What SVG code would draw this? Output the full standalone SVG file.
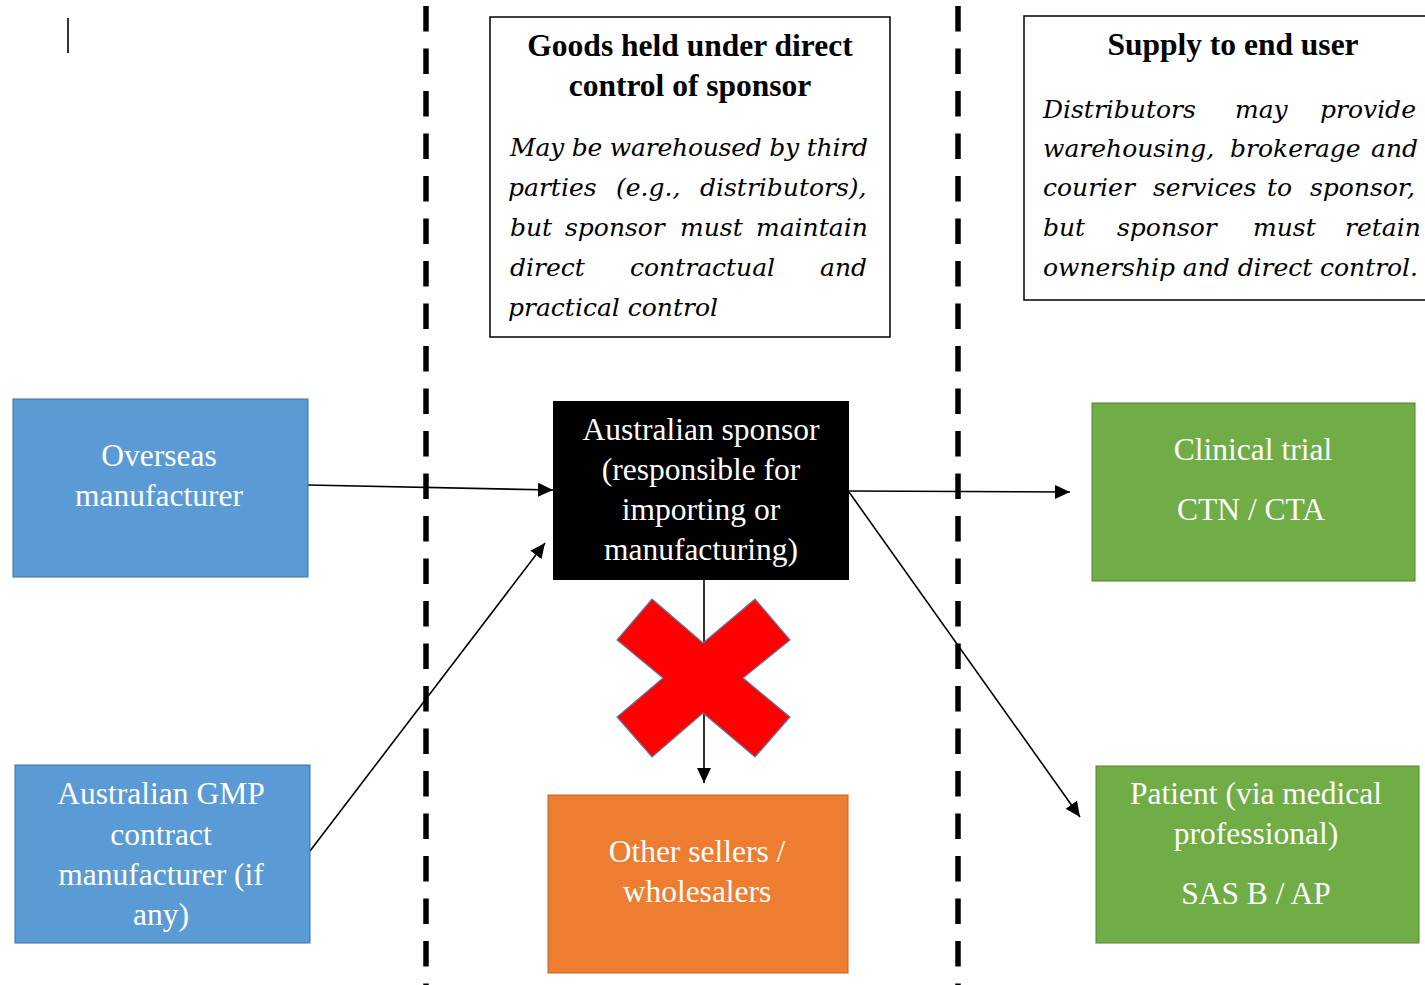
<svg xmlns="http://www.w3.org/2000/svg" width="1425" height="985" viewBox="0 0 1425 985">
<style>
.node-text{font-family:"Liberation Serif","Times New Roman",serif;font-size:31.5px;fill:#ffffff;text-anchor:middle}
.title{font-family:"Liberation Serif","Times New Roman",serif;font-size:31.5px;font-weight:bold;fill:#000;text-anchor:middle}
.body{font-family:"DejaVu Serif",serif;font-style:italic;font-size:25px;fill:#000}
.frame{fill:#fff;stroke:#000;stroke-width:1.5}
.conn{stroke:#000;stroke-width:1.6;fill:none;marker-end:url(#arrow)}
.divider{stroke:#000;stroke-width:5.5;stroke-dasharray:25.5 17}
</style>
<defs>
<marker id="arrow" markerUnits="userSpaceOnUse" markerWidth="15" markerHeight="14" refX="15" refY="7" orient="auto">
<path d="M0,0 L15,7 L0,14 z" fill="#000"/>
</marker>
</defs>
<rect width="1425" height="985" fill="#fff"/>
<line x1="68" y1="18" x2="68" y2="53" stroke="#333" stroke-width="2"/>
<g id="dividers">
<line class="divider" x1="426" y1="6" x2="426" y2="990"/>
<line class="divider" x1="958" y1="6" x2="958" y2="990"/>
</g>
<g id="note-control">
<rect class="frame" x="490" y="17" width="400" height="320"/>
<text class="title" x="690" y="56">Goods held under direct</text>
<text class="title" x="690" y="96">control of sponsor</text>
<text class="body" y="156" x="510" textLength="358" lengthAdjust="spacing">May be warehoused by third</text>
<text class="body" y="196"><tspan x="508">parties</tspan><tspan x="616">(e.g.,</tspan><tspan x="700">distributors),</tspan></text>
<text class="body" y="236"><tspan x="510">but</tspan><tspan x="565">sponsor</tspan><tspan x="680">must</tspan><tspan x="756">maintain</tspan></text>
<text class="body" y="276"><tspan x="510">direct</tspan><tspan x="630">contractual</tspan><tspan x="820">and</tspan></text>
<text class="body" y="316" x="508">practical control</text>
</g>
<g id="note-supply">
<rect class="frame" x="1024" y="16" width="410" height="284"/>
<text class="title" x="1233" y="55">Supply to end user</text>
<text class="body" y="118"><tspan x="1043">Distributors</tspan><tspan x="1235">may</tspan><tspan x="1320">provide</tspan></text>
<text class="body" y="157"><tspan x="1043">warehousing,</tspan><tspan x="1230">brokerage</tspan><tspan x="1371">and</tspan></text>
<text class="body" y="196"><tspan x="1043">courier</tspan><tspan x="1153">services</tspan><tspan x="1267">to</tspan><tspan x="1310">sponsor,</tspan></text>
<text class="body" y="236"><tspan x="1043">but</tspan><tspan x="1117">sponsor</tspan><tspan x="1253">must</tspan><tspan x="1345">retain</tspan></text>
<text class="body" y="276" x="1043" textLength="375" lengthAdjust="spacing">ownership and direct control.</text>
</g>
<g id="connectors">
<line class="conn" x1="308" y1="485" x2="553" y2="490"/>
<line class="conn" x1="310" y1="851" x2="545" y2="543"/>
<line class="conn" x1="849" y1="491" x2="1070" y2="492"/>
<line class="conn" x1="849" y1="492" x2="1080" y2="817"/>
<line class="conn" x1="704" y1="580" x2="704" y2="783"/>
</g>
<g id="overseas-manufacturer">
<rect x="13" y="399" width="295" height="178" fill="#5B9BD5" stroke="#41719C" stroke-width="1"/>
<text class="node-text" x="159" y="466">Overseas</text>
<text class="node-text" x="159" y="506">manufacturer</text>
</g>
<g id="gmp-manufacturer">
<rect x="15" y="765" width="295" height="178" fill="#5B9BD5" stroke="#41719C" stroke-width="1"/>
<text class="node-text" x="161" y="804">Australian GMP</text>
<text class="node-text" x="161" y="845">contract</text>
<text class="node-text" x="161" y="885">manufacturer (if</text>
<text class="node-text" x="161" y="925">any)</text>
</g>
<g id="sponsor">
<rect x="553" y="401" width="296" height="179" fill="#000"/>
<text class="node-text" x="701" y="440">Australian sponsor</text>
<text class="node-text" x="701" y="480">(responsible for</text>
<text class="node-text" x="701" y="520">importing or</text>
<text class="node-text" x="701" y="560">manufacturing)</text>
</g>
<g id="prohibited">
<polygon points="652,599 703,643 755,599 790,640 743,678 790,717 755,757 703,713 652,757 617,717 663,678 617,640" fill="#FF0000" stroke="#5A7CA8" stroke-width="1.2"/>
</g>
<g id="other-sellers">
<rect x="548" y="795" width="300" height="178" fill="#ED7D31" stroke="#C2651F" stroke-width="1"/>
<text class="node-text" x="697" y="862">Other sellers  /</text>
<text class="node-text" x="697" y="902">wholesalers</text>
</g>
<g id="clinical-trial">
<rect x="1092" y="403" width="323" height="178" fill="#70AD47" stroke="#548235" stroke-width="1"/>
<text class="node-text" x="1253" y="460">Clinical trial</text>
<text class="node-text" x="1251" y="520">CTN / CTA</text>
</g>
<g id="patient">
<rect x="1096" y="766" width="323" height="177" fill="#70AD47" stroke="#548235" stroke-width="1"/>
<text class="node-text" x="1256" y="804">Patient (via medical</text>
<text class="node-text" x="1256" y="844">professional)</text>
<text class="node-text" x="1256" y="904">SAS B / AP</text>
</g>
</svg>
